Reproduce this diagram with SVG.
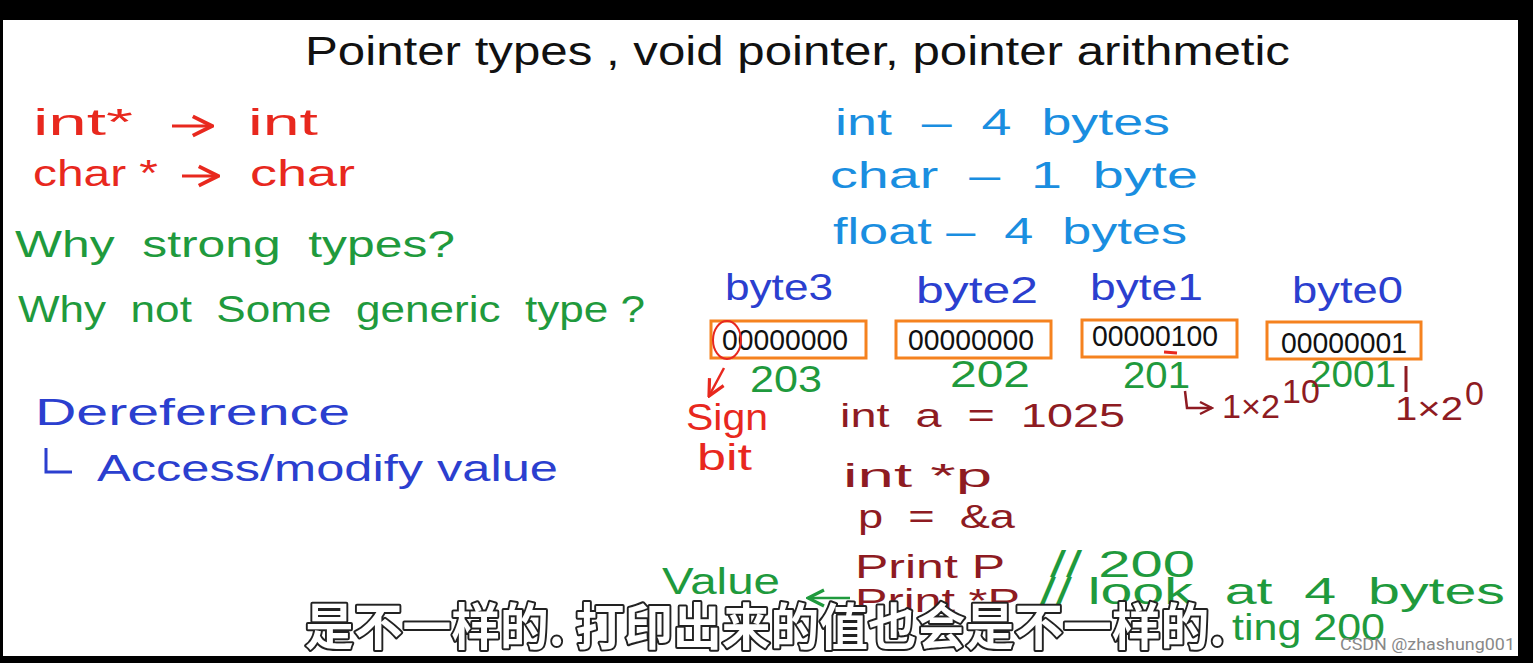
<svg xmlns="http://www.w3.org/2000/svg" width="1533" height="663" viewBox="0 0 1533 663">
<style>
.h{font-family:"Liberation Sans","DejaVu Sans",sans-serif;}
.title{fill:#111;font-size:40px}
.red{fill:#e8281e;font-size:36px}
.grn{fill:#1f9a3d;font-size:36px}
.blu{fill:#2b3fcf;font-size:36px}
.lbl{fill:#1a8ee0;font-size:36px}
.drd{fill:#8e1b22;font-size:34px}
.bits{fill:#111;font-size:30px}
.box{fill:none;stroke:#f5821f;stroke-width:3}
.sub{font-family:"Noto Sans CJK SC","Noto Sans CJK JP",sans-serif;font-size:50px;font-weight:bold;fill:#fff;stroke:#222;stroke-width:4;paint-order:stroke;stroke-linejoin:round}
</style>
<defs>
<marker id="arrR" viewBox="0 0 10 10" refX="9" refY="5" markerWidth="8" markerHeight="8" orient="auto"><path d="M1,1 L9,5 L1,9" fill="none" stroke="#e8281e" stroke-width="1.6"/></marker>
<marker id="arrG" viewBox="0 0 10 10" refX="9" refY="5" markerWidth="8" markerHeight="8" orient="auto"><path d="M1,1 L9,5 L1,9" fill="none" stroke="#1f9a3d" stroke-width="1.6"/></marker>
<marker id="arrD" viewBox="0 0 10 10" refX="9" refY="5" markerWidth="6" markerHeight="6" orient="auto"><path d="M1,1 L9,5 L1,9" fill="none" stroke="#8e1b22" stroke-width="1.6"/></marker>
</defs>
<rect x="0" y="0" width="1533" height="663" fill="#000"/>
<rect x="3" y="20" width="1515" height="636" fill="#fff"/>

<text class="h title" x="305" y="65" textLength="985" lengthAdjust="spacingAndGlyphs">Pointer types , void pointer, pointer arithmetic</text>

<g id="left-red">
<text class="h red" x="33" y="135" textLength="100" lengthAdjust="spacingAndGlyphs">int*</text>
<text class="h red" x="248" y="135" textLength="70" lengthAdjust="spacingAndGlyphs">int</text>
<text class="h red" x="33" y="186" textLength="125" lengthAdjust="spacingAndGlyphs">char *</text>
<text class="h red" x="250" y="186" textLength="105" lengthAdjust="spacingAndGlyphs">char</text>
</g>
<g id="left-green">
<text class="h grn" x="15" y="257" textLength="440" lengthAdjust="spacingAndGlyphs" xml:space="preserve">Why  strong  types?</text>
<text class="h grn" x="18" y="322" textLength="627" lengthAdjust="spacingAndGlyphs" xml:space="preserve">Why  not  Some  generic  type ?</text>
</g>
<g id="left-blue">
<text class="h blu" x="35" y="425" textLength="315" lengthAdjust="spacingAndGlyphs">Dereference</text>
<path d="M46,448 L46,472 L72,472" fill="none" stroke="#2b3fcf" stroke-width="3"/>
<text class="h blu" x="97" y="481" textLength="461" lengthAdjust="spacingAndGlyphs">Access/modify value</text>
</g>

<g id="sizes">
<text class="h lbl" x="835" y="135" textLength="335" lengthAdjust="spacingAndGlyphs" xml:space="preserve">int  –  4  bytes</text>
<text class="h lbl" x="830" y="188" textLength="368" lengthAdjust="spacingAndGlyphs" xml:space="preserve">char  –  1  byte</text>
<text class="h lbl" x="833" y="244" textLength="354" lengthAdjust="spacingAndGlyphs" xml:space="preserve">float –  4  bytes</text>
</g>

<g id="byte3">
<text class="h blu" x="725" y="300" font-size="32" textLength="108" lengthAdjust="spacingAndGlyphs">byte3</text>
<rect class="box" x="711" y="321" width="155" height="37"/>
<text class="h bits" x="722" y="350" textLength="126" lengthAdjust="spacingAndGlyphs">00000000</text>
<ellipse cx="727" cy="340" rx="14" ry="19" fill="none" stroke="#e8281e" stroke-width="2"/>
<text class="h grn" x="750" y="392" font-size="30" textLength="72" lengthAdjust="spacingAndGlyphs">203</text>
</g>
<g id="byte2">
<text class="h blu" x="916" y="303" font-size="32" textLength="122" lengthAdjust="spacingAndGlyphs">byte2</text>
<rect class="box" x="896" y="321" width="155" height="37"/>
<text class="h bits" x="908" y="350" textLength="126" lengthAdjust="spacingAndGlyphs">00000000</text>
<text class="h grn" x="950" y="387" font-size="30" textLength="80" lengthAdjust="spacingAndGlyphs">202</text>
</g>
<g id="byte1">
<text class="h blu" x="1090" y="300" font-size="32" textLength="113" lengthAdjust="spacingAndGlyphs">byte1</text>
<rect class="box" x="1082" y="320" width="155" height="37"/>
<text class="h bits" x="1092" y="346" textLength="126" lengthAdjust="spacingAndGlyphs">00000100</text>
<path d="M1164,352 L1177,353" stroke="#e8281e" stroke-width="3"/>
<text class="h grn" x="1123" y="388" font-size="30" textLength="67" lengthAdjust="spacingAndGlyphs">201</text>
</g>
<g id="byte0">
<text class="h blu" x="1292" y="303" font-size="32" textLength="111" lengthAdjust="spacingAndGlyphs">byte0</text>
<rect class="box" x="1267" y="322" width="154" height="37"/>
<text class="h bits" x="1281" y="353" textLength="126" lengthAdjust="spacingAndGlyphs">00000001</text>
<text class="h grn" x="1310" y="387" font-size="30" textLength="86" lengthAdjust="spacingAndGlyphs">2001</text>
<path d="M1406,366 L1406,392" stroke="#8e1b22" stroke-width="3"/>
</g>

<g id="connectors">
<path d="M172,126 L212,126" fill="none" stroke="#e8281e" stroke-width="3" marker-end="url(#arrR)"/>
<path d="M182,176 L218,176" fill="none" stroke="#e8281e" stroke-width="3" marker-end="url(#arrR)"/>
<path d="M724,368 L709,396" fill="none" stroke="#e8281e" stroke-width="2.5" marker-end="url(#arrR)"/>
<path d="M1185,391 L1187,408 L1212,408" fill="none" stroke="#8e1b22" stroke-width="2.5" marker-end="url(#arrD)"/>
<path d="M850,598 L808,598" fill="none" stroke="#1f9a3d" stroke-width="2.5" marker-end="url(#arrG)"/>
</g>

<g id="sign">
<text class="h red" x="686" y="430" font-size="34" textLength="82" lengthAdjust="spacingAndGlyphs">Sign</text>
<text class="h red" x="697" y="470" font-size="30" textLength="55" lengthAdjust="spacingAndGlyphs">bit</text>
</g>

<g id="code">
<text class="h drd" x="840" y="427" textLength="285" lengthAdjust="spacingAndGlyphs" xml:space="preserve">int  a  =  1025</text>
<text class="h drd" x="1222" y="418" font-size="30" textLength="58" lengthAdjust="spacingAndGlyphs">1×2</text>
<text class="h drd" x="1282" y="403" font-size="18">10</text>
<text class="h drd" x="1395" y="420" font-size="30" textLength="68" lengthAdjust="spacingAndGlyphs">1×2</text>
<text class="h drd" x="1465" y="405" font-size="18">0</text>
<text class="h drd" x="843" y="487" textLength="149" lengthAdjust="spacingAndGlyphs" xml:space="preserve">int *p</text>
<text class="h drd" x="858" y="528" textLength="157" lengthAdjust="spacingAndGlyphs" xml:space="preserve">p  =  &amp;a</text>
<text class="h drd" x="855" y="578" textLength="150" lengthAdjust="spacingAndGlyphs">Print P</text>
<text class="h grn" x="1050" y="577" font-size="32" textLength="145" lengthAdjust="spacingAndGlyphs" xml:space="preserve">// 200</text>
<text class="h grn" x="662" y="594" font-size="32" textLength="118" lengthAdjust="spacingAndGlyphs">Value</text>
<text class="h drd" x="855" y="612" textLength="165" lengthAdjust="spacingAndGlyphs">Print *P</text>
<text class="h grn" x="1040" y="604" font-size="32" textLength="465" lengthAdjust="spacingAndGlyphs" xml:space="preserve">// look  at  4  bytes</text>
<text class="h grn" x="1232" y="640" font-size="32" textLength="153" lengthAdjust="spacingAndGlyphs" xml:space="preserve">ting 200</text>
</g>

<text class="sub" x="305" y="645" textLength="920" lengthAdjust="spacingAndGlyphs">是不一样的. 打印出来的值也会是不一样的.</text>
<text x="1340" y="650" font-family="Roboto,'Liberation Sans',sans-serif" font-size="17" fill="#888" textLength="175" lengthAdjust="spacingAndGlyphs">CSDN @zhashung001</text>
</svg>
